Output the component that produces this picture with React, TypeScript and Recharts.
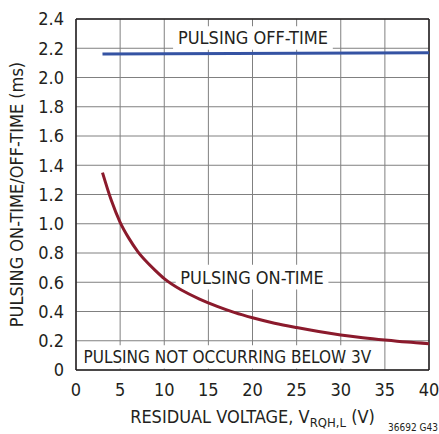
import {
  LineChart,
  Line,
  XAxis,
  YAxis,
  CartesianGrid,
  ReferenceArea,
  ReferenceLine,
} from 'recharts';

const FONT = "'Liberation Sans Narrow', 'DejaVu Sans Condensed', sans-serif";

// residual voltage (V) for the on-time curve
const onTimeVolts = [3, 4, 5, 6, 7, 8, 9, 10, 12, 14, 16, 18, 20, 22.5, 25, 27.5, 30, 32.5, 35, 37.5, 40];
// pulsing on-time (ms)
const onTimeMs = [1.35, 1.16, 1.01, 0.9, 0.81, 0.74, 0.68, 0.625, 0.545, 0.485, 0.435, 0.392, 0.357, 0.32, 0.29, 0.263, 0.24, 0.221, 0.205, 0.191, 0.18];

// pulsing off-time (ms)
const offTimeVolts = [3, 40];
const offTimeMs = [2.16, 2.17];

const xTicks = [0, 5, 10, 15, 20, 25, 30, 35, 40];
const yTicks = [0, 0.2, 0.4, 0.6, 0.8, 1.0, 1.2, 1.4, 1.6, 1.8, 2.0, 2.2, 2.4];

const onData = onTimeVolts.map((v, i) => ({ v, t: onTimeMs[i] }));
const offData = offTimeVolts.map((v, i) => ({ v, t: offTimeMs[i] }));

const GRID = '#808080';
const TEXT = '#231f20';

function XTitle(props: any) {
  const { viewBox } = props;
  const cx = viewBox.x + viewBox.width / 2;
  return (
    <g>
      <text x={cx} y={423} textAnchor="middle" fontSize={18} fontFamily={FONT} fill={TEXT}>
        RESIDUAL VOLTAGE, V
        <tspan dy={4} fontSize={13}>RQH,L</tspan>
        <tspan dy={-4}> (V)</tspan>
      </text>
      <text x={438} y={431} textAnchor="end" fontSize={10} fontFamily={FONT} fill={TEXT}>
        36692 G43
      </text>
    </g>
  );
}

function YTitle(props: any) {
  const { viewBox } = props;
  const cy = viewBox.y + viewBox.height / 2;
  return (
    <text
      x={0}
      y={0}
      transform={`translate(23, ${cy}) rotate(-90)`}
      textAnchor="middle"
      fontSize={18}
      fontFamily={FONT}
      fill={TEXT}
    >
      PULSING ON-TIME/OFF-TIME (ms)
    </text>
  );
}

const boxLabel = (value: string, size = 18) => ({
  value,
  position: 'center' as const,
  fontSize: size,
  fontFamily: FONT,
  fill: TEXT,
});

export default function App() {
  return (
    <div style={{ position: 'absolute', left: 0, top: 0, background: '#fff' }}>
      <LineChart width={439} height={434} margin={{ top: 19, right: 10, bottom: 0, left: 0 }}>
        <CartesianGrid stroke={GRID} strokeWidth={1} horizontalValues={yTicks} verticalValues={xTicks} />
        <XAxis
          type="number"
          dataKey="v"
          domain={[0, 40]}
          ticks={xTicks}
          allowDataOverflow
          height={64}
          tickLine={false}
          tickSize={0}
          tickMargin={13}
          axisLine={{ stroke: TEXT, strokeWidth: 1.5 }}
          tick={{ fontSize: 18, fontFamily: FONT, fill: TEXT }}
          label={<XTitle />}
        />
        <YAxis
          type="number"
          domain={[0, 2.4]}
          ticks={yTicks}
          allowDataOverflow
          width={76}
          tickLine={false}
          tickSize={0}
          tickMargin={12}
          axisLine={{ stroke: TEXT, strokeWidth: 1.5 }}
          tick={{ fontSize: 18, fontFamily: FONT, fill: TEXT }}
          tickFormatter={(v: number) => (v === 0 ? '0' : v.toFixed(1))}
          label={<YTitle />}
        />
        <ReferenceLine y={2.4} stroke={TEXT} strokeWidth={1.5} />
        <ReferenceLine x={40} stroke={TEXT} strokeWidth={1.5} />
        <ReferenceArea x1={11} x2={29.1} y1={2.19} y2={2.35} fill="#fff" fillOpacity={1} stroke="none" label={boxLabel('PULSING OFF-TIME')} />
        <ReferenceArea x1={11.3} x2={28.6} y1={0.55} y2={0.72} fill="#fff" fillOpacity={1} stroke="none" label={boxLabel('PULSING ON-TIME')} />
        <ReferenceArea x1={0.2} x2={34.1} y1={0.01} y2={0.17} fill="#fff" fillOpacity={1} stroke="none" label={boxLabel('PULSING NOT OCCURRING BELOW 3V', 17)} />
        <Line
          data={offData}
          dataKey="t"
          type="linear"
          stroke="#3553a3"
          strokeWidth={3}
          dot={false}
          isAnimationActive={false}
        />
        <Line
          data={onData}
          dataKey="t"
          type="monotone"
          stroke="#8b1a2c"
          strokeWidth={3}
          dot={false}
          isAnimationActive={false}
        />
      </LineChart>
    </div>
  );
}
